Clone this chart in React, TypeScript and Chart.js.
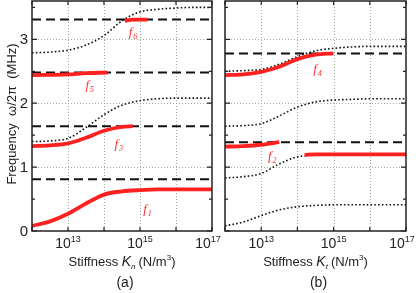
import React, { useEffect, useRef } from "react";
import { Chart, registerables } from "chart.js";
Chart.register(...registerables);

// log10 of stiffness, sample grid
const logK = [12, 12.5, 13, 13.5, 14, 14.5, 15, 15.5, 16, 16.5, 17];
const xTickExp = [13, 15, 17];
const yTickLabels = ["0", "1", "2", "3"];

// ---- panel (a): normal stiffness Kn ----
const aDashed = [0.81, 1.64, 2.48, 3.31];
const aDotLow = [0.08, 0.15, 0.27, 0.43, 0.57, 0.62, 0.64, 0.65, 0.65, 0.65, 0.65];
const aDotMid = [1.4, 1.41, 1.45, 1.62, 1.82, 1.97, 2.04, 2.07, 2.08, 2.08, 2.08];
const aDotTop = [2.79, 2.8, 2.83, 2.91, 3.06, 3.29, 3.43, 3.47, 3.49, 3.5, 3.5];
const aF1K = [12, 12.5, 13, 13.5, 14, 14.5, 15, 15.5, 16, 16.5, 17];
const aF1 = [0.08, 0.15, 0.27, 0.43, 0.57, 0.62, 0.64, 0.65, 0.65, 0.65, 0.65];
const aF3K = [12, 12.5, 13, 13.5, 14, 14.5, 14.8];
const aF3 = [1.33, 1.34, 1.37, 1.46, 1.57, 1.63, 1.64];
const aF5K = [12, 13, 13.5, 14.1];
const aF5 = [2.44, 2.45, 2.47, 2.48];
const aF6K = [14.58, 14.8, 15.21];
const aF6 = [3.29, 3.31, 3.31];
const aLabels = [
  { n: "1", k: 15.2, y: 0.33 },
  { n: "3", k: 14.4, y: 1.35 },
  { n: "5", k: 13.6, y: 2.27 },
  { n: "6", k: 14.8, y: 3.1 },
];

// ---- panel (b): tangential stiffness Kt ----
const bDashed = [1.39, 2.78];
const bDotLow = [0.08, 0.14, 0.24, 0.33, 0.38, 0.4, 0.41, 0.41, 0.41, 0.41, 0.41];
const bDotMid1 = [0.83, 0.85, 0.9, 1.05, 1.16, 1.19, 1.2, 1.2, 1.2, 1.2, 1.2];
const bDotMid2 = [1.64, 1.65, 1.68, 1.8, 1.94, 2.02, 2.05, 2.06, 2.07, 2.07, 2.07];
const bDotTop = [2.5, 2.51, 2.53, 2.61, 2.73, 2.82, 2.86, 2.88, 2.89, 2.89, 2.89];
const bF2K = [12, 12.5, 13, 13.5];
const bF2 = [1.32, 1.33, 1.35, 1.39];
const bF2bK = [14.2, 14.5, 15, 15.5, 16, 16.5, 17];
const bF2b = [1.19, 1.2, 1.2, 1.2, 1.2, 1.2, 1.2];
const bF4K = [12, 12.5, 13, 13.5, 14, 14.5, 15];
const bF4 = [2.44, 2.45, 2.49, 2.57, 2.69, 2.76, 2.78];
const bLabels = [
  { n: "2", k: 13.3, y: 1.16 },
  { n: "4", k: 14.55, y: 2.52 },
];

const W = 416;
const H = 293;
const FONT = "'Liberation Sans Narrow', 'Liberation Sans', Arial, sans-serif";

const pts = (ks: number[], ys: number[]) => ks.map((k, i) => ({ x: Math.pow(10, k), y: ys[i] }));

const red = (ks: number[], ys: number[]) => ({
  data: pts(ks, ys),
  borderColor: "#ff2020",
  borderWidth: 3.8,
  borderCapStyle: "butt",
  cubicInterpolationMode: "monotone",
  pointRadius: 0,
  order: 0,
});
const dotted = (ys: number[]) => ({
  data: pts(logK, ys),
  borderColor: "#111",
  borderWidth: 1.6,
  borderDash: [1.6, 2.2],
  cubicInterpolationMode: "monotone",
  pointRadius: 0,
  order: 2,
});
const dashed = (v: number) => ({
  data: pts([12, 17], [v, v]),
  borderColor: "#111",
  borderWidth: 2,
  borderDash: [9, 5],
  pointRadius: 0,
  order: 1,
});

function drawSupText(ctx: CanvasRenderingContext2D, parts: any[], cx: number, y: number) {
  let total = 0;
  for (const p of parts) {
    ctx.font = p.font;
    total += ctx.measureText(p.t).width + (p.gap || 0);
  }
  let x = cx - total / 2;
  ctx.textAlign = "left";
  ctx.textBaseline = "alphabetic";
  for (const p of parts) {
    ctx.font = p.font;
    ctx.fillText(p.t, x, y + (p.dy || 0));
    x += ctx.measureText(p.t).width + (p.gap || 0);
  }
}

function makePlugin(panel: "a" | "b", labels: any[], sub: string) {
  return {
    id: "deco" + panel,
    beforeDatasetsDraw(chart: any) {
      const ctx = chart.ctx;
      const ca = chart.chartArea;
      const xs = chart.scales.x;
      const ys = chart.scales.y;
      ctx.save();
      ctx.strokeStyle = "#9cae9e";
      ctx.lineWidth = 1;
      ctx.setLineDash([1, 2]);
      for (let e = 13; e <= 16; e++) {
        const x = Math.round(xs.getPixelForValue(Math.pow(10, e))) + 0.5;
        ctx.beginPath();
        ctx.moveTo(x, ca.top);
        ctx.lineTo(x, ca.bottom);
        ctx.stroke();
      }
      for (let v = 1; v <= 3; v++) {
        const y = Math.round(ys.getPixelForValue(v)) + 0.5;
        ctx.beginPath();
        ctx.moveTo(ca.left, y);
        ctx.lineTo(ca.right, y);
        ctx.stroke();
      }
      ctx.restore();
    },
    afterDraw(chart: any) {
      const ctx = chart.ctx;
      const ca = chart.chartArea;
      const xs = chart.scales.x;
      const ys = chart.scales.y;
      ctx.save();
      ctx.setLineDash([]);
      ctx.strokeStyle = "#222";
      ctx.lineWidth = 1.5;
      ctx.strokeRect(ca.left, ca.top, ca.right - ca.left, ca.bottom - ca.top);
      ctx.lineWidth = 1.2;
      for (let v = 0; v <= 3.5; v += 0.5) {
        const y = ys.getPixelForValue(v);
        const len = v % 1 === 0 ? 5 : 3;
        ctx.beginPath();
        ctx.moveTo(ca.left, y);
        ctx.lineTo(ca.left + len, y);
        ctx.moveTo(ca.right, y);
        ctx.lineTo(ca.right - len, y);
        ctx.stroke();
      }
      for (let e = 12; e <= 17; e++) {
        const x = xs.getPixelForValue(Math.pow(10, e));
        ctx.beginPath();
        ctx.moveTo(x, ca.bottom);
        ctx.lineTo(x, ca.bottom - 4);
        ctx.moveTo(x, ca.top);
        ctx.lineTo(x, ca.top + 4);
        ctx.stroke();
      }
      ctx.fillStyle = "#222";
      // x tick labels
      for (const e of xTickExp) {
        const x = xs.getPixelForValue(Math.pow(10, e));
        drawSupText(
          ctx,
          [
            { t: "10", font: `14px ${FONT}` },
            { t: String(e), font: `9px ${FONT}`, dy: -6 },
          ],
          e === 17 ? x - 4 : x,
          ca.bottom + 17
        );
      }
      // y tick labels (panel a only)
      if (panel === "a") {
        ctx.font = `15px ${FONT}`;
        ctx.textAlign = "right";
        ctx.textBaseline = "middle";
        yTickLabels.forEach((t) => {
          const y = ys.getPixelForValue(Number(t));
          ctx.fillText(t, ca.left - 4, y + 1);
        });
        ctx.save();
        ctx.translate(12, (ca.top + ca.bottom) / 2 - 2);
        ctx.rotate(-Math.PI / 2);
        ctx.font = `13px ${FONT}`;
        ctx.textAlign = "center";
        ctx.textBaseline = "middle";
        ctx.fillText("Frequency  ω/2π  (MHz)", 0, 0);
        ctx.restore();
      }
      // x title
      const cx = (ca.left + ca.right) / 2;
      drawSupText(
        ctx,
        [
          { t: "Stiffness ", font: `13px ${FONT}` },
          { t: "K", font: `italic 14px ${FONT}` },
          { t: sub, font: `italic 8px ${FONT}`, dy: 3, gap: 3 },
          { t: "(N/m", font: `13px ${FONT}` },
          { t: "3", font: `8px ${FONT}`, dy: -6 },
          { t: ")", font: `13px ${FONT}` },
        ],
        cx,
        ca.bottom + 35
      );
      ctx.font = `14px ${FONT}`;
      ctx.textAlign = "center";
      ctx.textBaseline = "alphabetic";
      ctx.fillText(panel === "a" ? "(a)" : "(b)", cx + 3, ca.bottom + 56);
      // mode labels
      ctx.fillStyle = "#ff3030";
      for (const l of labels) {
        const x = xs.getPixelForValue(Math.pow(10, l.k));
        const y = ys.getPixelForValue(l.y);
        ctx.textAlign = "left";
        ctx.textBaseline = "middle";
        ctx.font = "italic 13px 'Liberation Serif', 'DejaVu Serif', serif";
        ctx.fillText("f", x - 4, y);
        ctx.font = "italic 8px 'Liberation Serif', serif";
        ctx.fillText(l.n, x + 0.5, y + 4);
      }
      ctx.restore();
    },
  };
}

function makeChart(canvas: HTMLCanvasElement, panel: "a" | "b") {
  const datasets: any[] =
    panel === "a"
      ? [
          red(aF1K, aF1),
          red(aF3K, aF3),
          red(aF5K, aF5),
          red(aF6K, aF6),
          ...aDashed.map(dashed),
          dotted(aDotLow),
          dotted(aDotMid),
          dotted(aDotTop),
        ]
      : [
          red(bF2K, bF2),
          red(bF2bK, bF2b),
          red(bF4K, bF4),
          ...bDashed.map(dashed),
          dotted(bDotLow),
          dotted(bDotMid1),
          dotted(bDotMid2),
          dotted(bDotTop),
        ];
  const padding =
    panel === "a"
      ? { left: 32, right: W - 212, top: 1, bottom: H - 231 }
      : { left: 225, right: W - 406, top: 1, bottom: H - 231 };
  return new Chart(canvas, {
    type: "line",
    data: { datasets },
    options: {
      responsive: false,
      animation: false,
      layout: { padding },
      plugins: { legend: { display: false }, tooltip: { enabled: false } },
      elements: { line: { fill: false } },
      scales: {
        x: { type: "logarithmic", min: 1e12, max: 1e17, display: false },
        y: { type: "linear", min: 0, max: 3.6, display: false },
      },
    },
    plugins: [makePlugin(panel, panel === "a" ? aLabels : bLabels, panel === "a" ? "n" : "t")],
  } as any);
}

export default function App() {
  const refA = useRef<HTMLCanvasElement>(null);
  const refB = useRef<HTMLCanvasElement>(null);
  useEffect(() => {
    const ca = makeChart(refA.current!, "a");
    const cb = makeChart(refB.current!, "b");
    return () => {
      ca.destroy();
      cb.destroy();
    };
  }, []);
  const cs: React.CSSProperties = { position: "absolute", left: 0, top: 0 };
  return (
    <div style={{ position: "fixed", left: 0, top: 0, width: W, height: H, background: "#fff" }}>
      <canvas ref={refA} width={W} height={H} style={cs} />
      <canvas ref={refB} width={W} height={H} style={cs} />
    </div>
  );
}
